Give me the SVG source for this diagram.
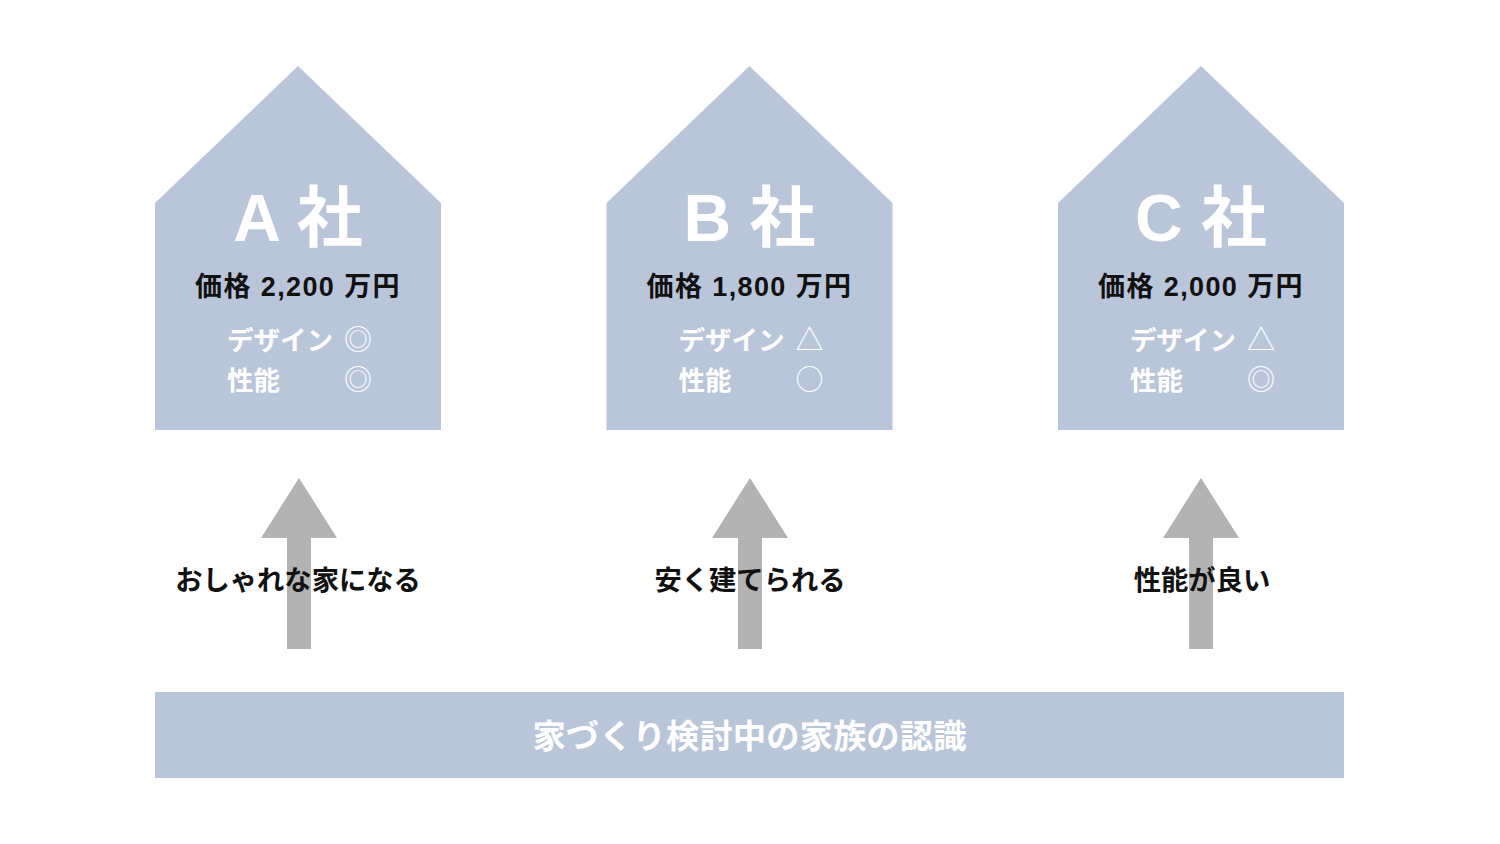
<svg xmlns="http://www.w3.org/2000/svg" width="1500" height="844" viewBox="0 0 1500 844">
<defs>
<style>
.house{fill:#b9c6da;}
.arrow{fill:#b3b3b3;}
.t{font-family:"Liberation Sans","Noto Sans CJK JP",sans-serif;font-weight:bold;}
.title{font-size:66px;fill:#ffffff;text-anchor:middle;}
.price{font-size:27px;fill:#111111;text-anchor:middle;letter-spacing:1.4px;}
.attr{font-family:"Noto Sans CJK JP",sans-serif;font-weight:bold;font-size:26.5px;fill:#ffffff;}
.sym{font-family:"Noto Sans CJK JP",sans-serif;font-weight:normal;font-size:28px;fill:#ffffff;text-anchor:middle;}
.label{font-family:"Noto Sans CJK JP",sans-serif;font-weight:bold;font-size:27.3px;fill:#111111;text-anchor:middle;}
.bar{font-family:"Noto Sans CJK JP",sans-serif;font-weight:bold;font-size:33.4px;fill:#ffffff;text-anchor:middle;}
</style>
<path id="houseShape" d="M0,0 L143,137 L143,364 L-143,364 L-143,137 Z"/>
<path id="arrowShape" d="M0,0 L38,60 L12,60 L12,171 L-12,171 L-12,60 L-38,60 Z"/>
</defs>
<rect width="1500" height="844" fill="#ffffff"/>

<g id="connectors">
<use href="#arrowShape" class="arrow" x="299" y="478"/>
<use href="#arrowShape" class="arrow" x="750" y="478"/>
<use href="#arrowShape" class="arrow" x="1201" y="478"/>
</g>

<g id="houseA">
<use href="#houseShape" class="house" x="298" y="66"/>
<text class="t title" x="298" y="241">A 社</text>
<text class="t price" x="298" y="296">価格 2,200 万円</text>
<text class="attr" x="227" y="350">デザイン</text>
<text class="attr" x="227" y="390">性能</text>
<text class="sym" x="358" y="350">◎</text>
<text class="sym" x="358" y="390">◎</text>
</g>

<g id="houseB">
<use href="#houseShape" class="house" x="749.5" y="66"/>
<text class="t title" x="749.5" y="241">B 社</text>
<text class="t price" x="749.5" y="296">価格 1,800 万円</text>
<text class="attr" x="678.5" y="350">デザイン</text>
<text class="attr" x="678.5" y="390">性能</text>
<text class="sym" x="809.5" y="350">△</text>
<text class="sym" x="809.5" y="390">○</text>
</g>

<g id="houseC">
<use href="#houseShape" class="house" x="1201" y="66"/>
<text class="t title" x="1201" y="241">C 社</text>
<text class="t price" x="1201" y="296">価格 2,000 万円</text>
<text class="attr" x="1130" y="350">デザイン</text>
<text class="attr" x="1130" y="390">性能</text>
<text class="sym" x="1261" y="350">△</text>
<text class="sym" x="1261" y="390">◎</text>
</g>

<g id="labelA"><text class="label" x="298" y="590">おしゃれな家になる</text></g>
<g id="labelB"><text class="label" x="750" y="590">安く建てられる</text></g>
<g id="labelC"><text class="label" x="1202" y="590">性能が良い</text></g>

<g id="base">
<rect class="house" x="155" y="692" width="1189" height="86"/>
<text class="bar" x="749.5" y="748">家づくり検討中の家族の認識</text>
</g>
</svg>
